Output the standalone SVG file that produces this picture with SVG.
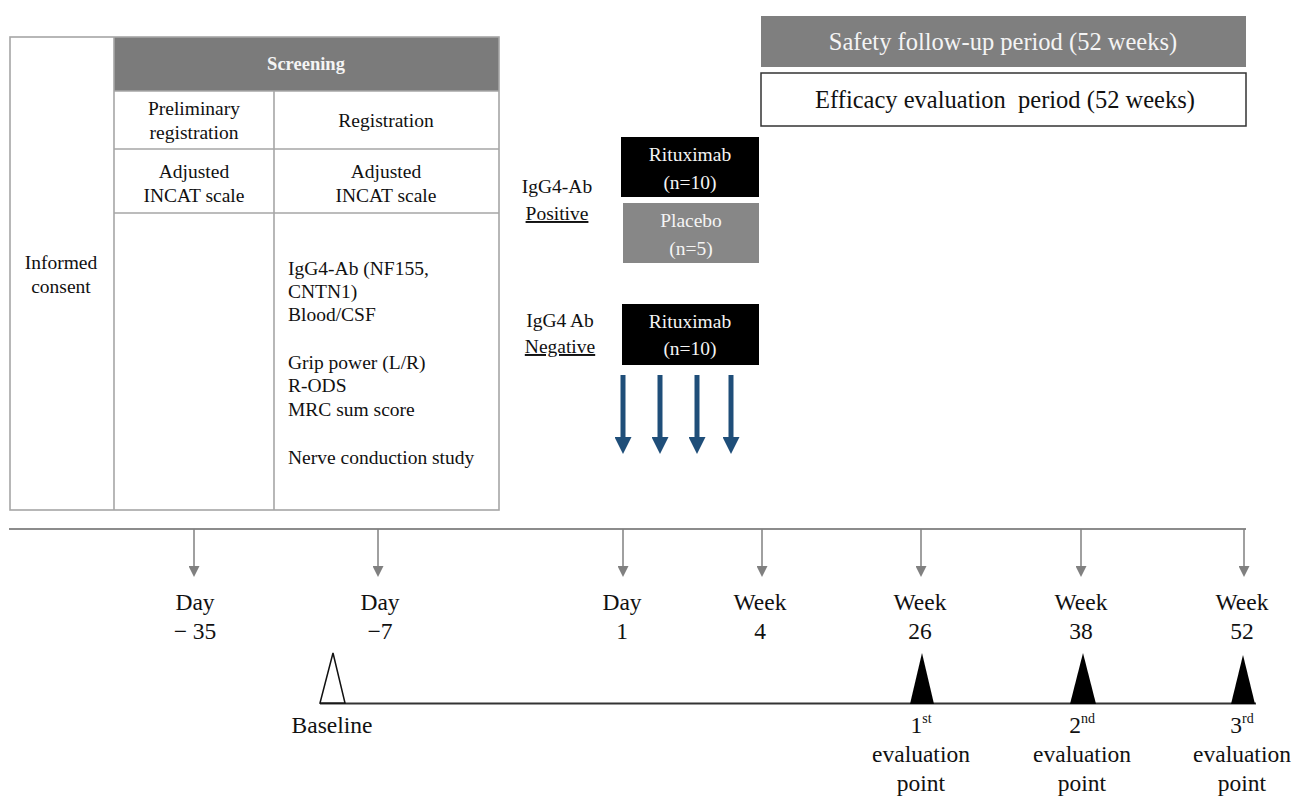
<svg xmlns="http://www.w3.org/2000/svg" width="1301" height="797" viewBox="0 0 1301 797">
<style>
text{font-family:"Liberation Serif","Times New Roman",serif;fill:#111}
.t19{font-size:19.5px}
.t24{font-size:24.5px}
.t23{font-size:23.5px}
.c{text-anchor:middle}
.w{fill:#f4f4f4}
.grid{stroke:#a6a6a6;stroke-width:1.6;fill:none}
.tick{stroke:#808080;stroke-width:1.5}
.blue{stroke:#1f4e79;stroke-width:5}
</style>
<defs>
<marker id="gt" markerWidth="11" markerHeight="11" refX="0" refY="5.5" orient="auto" markerUnits="userSpaceOnUse" viewBox="0 0 11 11">
<path d="M0,0 L11,5.5 L0,11 Z" fill="#808080"/>
</marker>
<marker id="bt" markerWidth="17" markerHeight="17" refX="0" refY="8.5" orient="auto" markerUnits="userSpaceOnUse" viewBox="0 0 17 17">
<path d="M0,0 L17,8.5 L0,17 Z" fill="#1f4e79"/>
</marker>
</defs>
<rect width="1301" height="797" fill="#fff"/>

<g id="table">
<rect x="114" y="37" width="385" height="54" fill="#7b7b7b"/>
<rect class="grid" x="10" y="37" width="489" height="473"/>
<line class="grid" x1="114" y1="37" x2="114" y2="510"/>
<line class="grid" x1="274" y1="91" x2="274" y2="510"/>
<line class="grid" x1="114" y1="91" x2="499" y2="91"/>
<line class="grid" x1="114" y1="149" x2="499" y2="149"/>
<line class="grid" x1="114" y1="213" x2="499" y2="213"/>
<text class="c w" x="306" y="70" font-weight="bold" style="font-size:18.5px">Screening</text>
<text class="t19 c" x="194" y="115">Preliminary</text>
<text class="t19 c" x="194" y="139">registration</text>
<text class="t19 c" x="386" y="127">Registration</text>
<text class="t19 c" x="194" y="178">Adjusted</text>
<text class="t19 c" x="194" y="202">INCAT scale</text>
<text class="t19 c" x="386" y="178">Adjusted</text>
<text class="t19 c" x="386" y="202">INCAT scale</text>
<text class="t19 c" x="61" y="269">Informed</text>
<text class="t19 c" x="61" y="293">consent</text>
<text class="t19" x="288" y="275">IgG4-Ab (NF155,</text>
<text class="t19" x="288" y="298">CNTN1)</text>
<text class="t19" x="288" y="321">Blood/CSF</text>
<text class="t19" x="288" y="369">Grip power (L/R)</text>
<text class="t19" x="288" y="392">R-ODS</text>
<text class="t19" x="288" y="416">MRC sum score</text>
<text class="t19" x="288" y="464">Nerve conduction study</text>
</g>

<g id="safety">
<rect x="761" y="16" width="485" height="51" fill="#7f7f7f"/>
<text class="t24 c w" x="1003" y="50">Safety follow-up period (52 weeks)</text>
</g>
<g id="efficacy">
<rect x="761" y="73" width="485" height="53" fill="#fff" stroke="#333" stroke-width="1.5"/>
<text class="t24 c" x="1005" y="108" xml:space="preserve">Efficacy evaluation  period (52 weeks)</text>
</g>

<g id="pos-label">
<text class="t19 c" x="557" y="193">IgG4-Ab</text>
<text class="t19 c" x="557" y="220" text-decoration="underline">Positive</text>
</g>
<g id="neg-label">
<text class="t19 c" x="560" y="327">IgG4 Ab</text>
<text class="t19 c" x="560" y="353" text-decoration="underline">Negative</text>
</g>
<g id="ritux-pos">
<rect x="621" y="137" width="138" height="60" fill="#000"/>
<text class="t19 c w" x="690" y="161">Rituximab</text>
<text class="t19 c w" x="690" y="189">(n=10)</text>
</g>
<g id="placebo">
<rect x="623" y="203" width="136" height="60" fill="#878787"/>
<text class="t19 c w" x="691" y="227">Placebo</text>
<text class="t19 c w" x="691" y="255">(n=5)</text>
</g>
<g id="ritux-neg">
<rect x="622" y="304" width="137" height="61" fill="#000"/>
<text class="t19 c w" x="690" y="328">Rituximab</text>
<text class="t19 c w" x="690" y="355">(n=10)</text>
</g>

<g id="connectors">
<line class="blue" x1="623" y1="375" x2="623" y2="437" marker-end="url(#bt)"/>
<line class="blue" x1="660" y1="375" x2="660" y2="437" marker-end="url(#bt)"/>
<line class="blue" x1="697" y1="375" x2="697" y2="437" marker-end="url(#bt)"/>
<line class="blue" x1="731" y1="375" x2="731" y2="437" marker-end="url(#bt)"/>
<line x1="9" y1="529" x2="1246" y2="529" stroke="#8c8c8c" stroke-width="2"/>
<line class="tick" x1="194" y1="529" x2="194" y2="566" marker-end="url(#gt)"/>
<line class="tick" x1="378" y1="529" x2="378" y2="566" marker-end="url(#gt)"/>
<line class="tick" x1="623" y1="529" x2="623" y2="566" marker-end="url(#gt)"/>
<line class="tick" x1="762" y1="529" x2="762" y2="566" marker-end="url(#gt)"/>
<line class="tick" x1="921" y1="529" x2="921" y2="566" marker-end="url(#gt)"/>
<line class="tick" x1="1081" y1="529" x2="1081" y2="566" marker-end="url(#gt)"/>
<line class="tick" x1="1244" y1="529" x2="1244" y2="566" marker-end="url(#gt)"/>
<line x1="320" y1="703.5" x2="1256" y2="703.5" stroke="#333" stroke-width="2"/>
</g>

<g id="timepoints">
<text class="t23 c" x="195" y="610">Day</text>
<text class="t23 c" x="195" y="639">− 35</text>
<text class="t23 c" x="380" y="610">Day</text>
<text class="t23 c" x="380" y="639">−7</text>
<text class="t23 c" x="622" y="610">Day</text>
<text class="t23 c" x="622" y="639">1</text>
<text class="t23 c" x="760" y="610">Week</text>
<text class="t23 c" x="760" y="639">4</text>
<text class="t23 c" x="920" y="610">Week</text>
<text class="t23 c" x="920" y="639">26</text>
<text class="t23 c" x="1081" y="610">Week</text>
<text class="t23 c" x="1081" y="639">38</text>
<text class="t23 c" x="1242" y="610">Week</text>
<text class="t23 c" x="1242" y="639">52</text>
</g>

<g id="baseline">
<path d="M333,653 L345,703 L320,703 Z" fill="#fff" stroke="#111" stroke-width="1.5"/>
<text class="t23 c" x="332" y="733">Baseline</text>
</g>
<g id="eval1">
<path d="M922,653 L934,704 L910,704 Z" fill="#000"/>
<text class="t23 c" x="921" y="733">1<tspan font-size="14" dy="-10">st</tspan></text>
<text class="t23 c" x="921" y="762">evaluation</text>
<text class="t23 c" x="921" y="791">point</text>
</g>
<g id="eval2">
<path d="M1083,653 L1096,704 L1070,704 Z" fill="#000"/>
<text class="t23 c" x="1082" y="733">2<tspan font-size="14" dy="-10">nd</tspan></text>
<text class="t23 c" x="1082" y="762">evaluation</text>
<text class="t23 c" x="1082" y="791">point</text>
</g>
<g id="eval3">
<path d="M1243,655 L1255,704 L1231,704 Z" fill="#000"/>
<text class="t23 c" x="1242" y="733">3<tspan font-size="14" dy="-10">rd</tspan></text>
<text class="t23 c" x="1242" y="762">evaluation</text>
<text class="t23 c" x="1242" y="791">point</text>
</g>
</svg>
